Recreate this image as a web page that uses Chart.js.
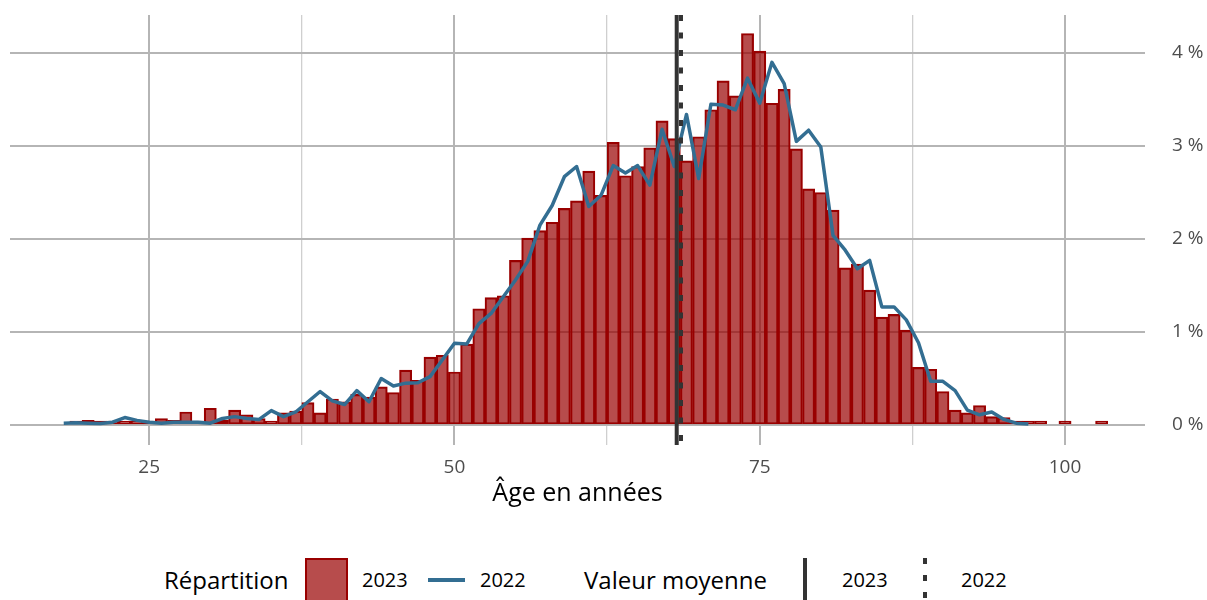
<!DOCTYPE html>
<html lang="fr">
<head>
<meta charset="utf-8">
<title>Répartition par âge</title>
<script src="https://cdn.jsdelivr.net/npm/chart.js@4.4.1/dist/chart.umd.min.js"></script>
<style>
  body { margin: 0; background: #fff; font-family: "Open Sans", sans-serif; }
  #page { position: relative; width: 1207px; height: 600px; overflow: hidden; }
  #wrap { position: absolute; left: 0; top: 0; width: 1207px; height: 520px; }
  .txt { position: absolute; top: 580px; transform: translateY(-50%); line-height: 1; color: #000; white-space: nowrap; }
  .big { font-size: 24px; }
  .small { font-size: 20px; }
  .key { position: absolute; }
</style>
</head>
<body>
<div id="page">
  <div id="wrap"><canvas id="age-chart"></canvas></div>

  <!-- legend -->
  <span class="txt big" style="left:164px">Répartition</span>
  <div class="key" style="left:305px;top:558px;width:43px;height:60px;box-sizing:border-box;background:rgba(153,0,0,0.7);border:2px solid #990000"></div>
  <span class="txt small" style="left:362px">2023</span>
  <div class="key" style="left:428px;top:578px;width:37px;height:4px;background:#336e92"></div>
  <span class="txt small" style="left:480px">2022</span>
  <span class="txt big" style="left:584px">Valeur moyenne</span>
  <div class="key" style="left:803px;top:558px;width:4px;height:42px;background:#333"></div>
  <span class="txt small" style="left:842px">2023</span>
  <div class="key" style="left:923px;top:558px;width:4px;height:44px;background:repeating-linear-gradient(to bottom,#333 0 6px,transparent 6px 17px)"></div>
  <span class="txt small" style="left:961px">2022</span>
</div>

<script>
// 2023 distribution (% per year of age)
const ages2023 = [19, 20, 21, 22, 23, 24, 25, 26, 27, 28, 29, 30, 31, 32, 33, 34, 35, 36, 37, 38,
  39, 40, 41, 42, 43, 44, 45, 46, 47, 48, 49, 50, 51, 52, 53, 54, 55, 56, 57, 58,
  59, 60, 61, 62, 63, 64, 65, 66, 67, 68, 69, 70, 71, 72, 73, 74, 75, 76, 77, 78,
  79, 80, 81, 82, 83, 84, 85, 86, 87, 88, 89, 90, 91, 92, 93, 94, 95, 96, 97, 98,
  100, 103];
const share2023 = [0.02, 0.05, 0.02, 0.03, 0.04, 0.02, 0.02, 0.07, 0.05, 0.14, 0.04, 0.18, 0.05, 0.16, 0.11, 0.07, 0.04, 0.13, 0.15, 0.24,
  0.13, 0.28, 0.25, 0.33, 0.30, 0.41, 0.35, 0.59, 0.48, 0.73, 0.75, 0.57, 0.87, 1.25, 1.37, 1.39, 1.77, 2.01, 2.09, 2.18,
  2.33, 2.41, 2.73, 2.47, 3.04, 2.68, 2.78, 2.98, 3.27, 3.08, 2.84, 3.10, 3.39, 3.70, 3.54, 4.21, 4.02, 3.46, 3.61, 2.97,
  2.54, 2.50, 2.31, 1.69, 1.73, 1.45, 1.16, 1.19, 1.02, 0.62, 0.60, 0.36, 0.16, 0.13, 0.21, 0.09, 0.08, 0.035, 0.01, 0.005,
  0.005, 0.005];

// 2022 distribution
const ages2022 = [18, 19, 20, 21, 22, 23, 24, 25, 26, 27, 28, 29, 30, 31, 32, 33, 34, 35, 36, 37,
  38, 39, 40, 41, 42, 43, 44, 45, 46, 47, 48, 49, 50, 51, 52, 53, 54, 55, 56, 57,
  58, 59, 60, 61, 62, 63, 64, 65, 66, 67, 68, 69, 70, 71, 72, 73, 74, 75, 76, 77,
  78, 79, 80, 81, 82, 83, 84, 85, 86, 87, 88, 89, 90, 91, 92, 93, 94, 95, 96, 97];
const share2022 = [0.02, 0.025, 0.02, 0.015, 0.03, 0.08, 0.05, 0.03, 0.02, 0.03, 0.03, 0.03, 0.02, 0.07, 0.09, 0.07, 0.06, 0.155, 0.09, 0.14,
  0.25, 0.36, 0.26, 0.22, 0.37, 0.25, 0.50, 0.42, 0.45, 0.455, 0.52, 0.70, 0.88, 0.87, 1.09, 1.20, 1.38, 1.56, 1.76, 2.15,
  2.36, 2.67, 2.78, 2.35, 2.47, 2.79, 2.71, 2.79, 2.58, 3.18, 2.78, 3.34, 2.65, 3.45, 3.44, 3.39, 3.73, 3.46, 3.90, 3.67,
  3.05, 3.17, 2.99, 2.04, 1.88, 1.68, 1.77, 1.27, 1.27, 1.13, 0.885, 0.47, 0.47, 0.37, 0.16, 0.11, 0.14, 0.06, 0.02, 0.01];

// mean age
const mean2023 = 68.2;
const mean2022 = 68.55;

const xTicks = [25, 37.5, 50, 62.5, 75, 87.5, 100];
const yTicks = [0, 1, 2, 3, 4];

const meanLines = {
  id: "meanLines",
  afterDatasetsDraw(chart) {
    const { ctx, chartArea, scales } = chart;
    const draw = (value, dash) => {
      const x = scales.x.getPixelForValue(value);
      ctx.save();
      ctx.strokeStyle = "#333333";
      ctx.lineWidth = 4;
      ctx.setLineDash(dash);
      ctx.beginPath();
      ctx.moveTo(x, chartArea.top);
      ctx.lineTo(x, chartArea.bottom);
      ctx.stroke();
      ctx.restore();
    };
    draw(mean2022, [6, 11.5]);
    draw(mean2023, []);
  },
};

new Chart(document.getElementById("age-chart"), {
  data: {
    datasets: [
      {
        type: "line",
        label: "2022",
        data: ages2022.map((a, i) => ({ x: a, y: share2022[i] })),
        borderColor: "#336e92",
        borderWidth: 3.5,
        borderJoinStyle: "round",
        pointRadius: 0,
        tension: 0,
        order: 0,
      },
      {
        type: "bar",
        label: "2023",
        data: ages2023.map((a, i) => ({ x: a, y: share2023[i] })),
        backgroundColor: "rgba(153,0,0,0.7)",
        borderColor: "#990000",
        borderWidth: 1.5,
        borderSkipped: false,
        minBarLength: 4,
        barPercentage: 1,
        categoryPercentage: 1,
        order: 1,
      },
    ],
  },
  options: {
    responsive: true,
    maintainAspectRatio: false,
    animation: false,
    layout: { padding: { left: 10, top: 15, right: 0, bottom: 0 } },
    plugins: { legend: { display: false }, tooltip: { enabled: false } },
    scales: {
      x: {
        type: "linear",
        offset: false,
        min: 13.6,
        max: 106.55,
        afterBuildTicks: (s) => { s.ticks = xTicks.map((v) => ({ value: v })); },
        afterFit: (s) => { s.height = 75; s.paddingLeft = 0; s.paddingRight = 0; },
        border: { display: false },
        grid: {
          offset: false,
          drawTicks: false,
          color: (c) => (c.tick && c.tick.value % 25 === 0 ? "#b5b5b5" : "#cfcfcf"),
          lineWidth: (c) => (c.tick && c.tick.value % 25 === 0 ? 2 : 1.3),
        },
        ticks: {
          autoSkip: false,
          maxRotation: 0,
          padding: 11,
          color: "#4d4d4d",
          font: { family: "Open Sans", size: 19 },
          callback: (v) => (v % 25 === 0 ? v : ""),
        },
        title: {
          display: true,
          text: "Âge en années",
          color: "#000",
          font: { family: "Open Sans", size: 25 },
          padding: { top: 0, bottom: 11 },
        },
      },
      y: {
        type: "linear",
        position: "right",
        min: -0.215,
        max: 4.409,
        afterBuildTicks: (s) => { s.ticks = yTicks.map((v) => ({ value: v })); },
        afterFit: (s) => { s.width = 62; s.paddingTop = 0; s.paddingBottom = 0; },
        border: { display: false },
        grid: { drawTicks: true, tickLength: 27, tickColor: "rgba(0,0,0,0)", color: "#b5b5b5", lineWidth: 2 },
        ticks: {
          padding: 0,
          color: "#4d4d4d",
          font: { family: "Open Sans", size: 19 },
          callback: (v) => v + " %",
        },
      },
    },
  },
  plugins: [meanLines],
});
</script>
</body>
</html>
